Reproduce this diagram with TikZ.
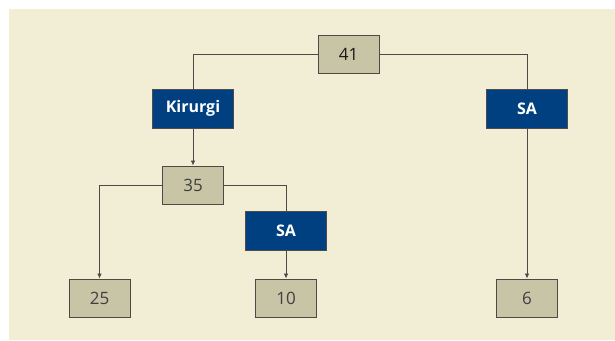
\documentclass[tikz,border=0pt]{standalone}
\usepackage{fontspec}
\setmainfont{Open Sans}
\usetikzlibrary{arrows.meta}
\definecolor{paper}{RGB}{242,238,214}
\definecolor{stone}{RGB}{200,196,166}
\definecolor{navy}{RGB}{0,64,128}
\definecolor{wire}{RGB}{75,75,70}
\tikzset{
	numbox/.style={draw=wire,fill=stone,line width=0.9pt,minimum width=61pt,minimum height=38pt,inner sep=0pt,text=black!75,font=\fontsize{17}{20}\selectfont},
	opbox/.style={draw=black!70,fill=navy,line width=0.9pt,minimum width=81pt,minimum height=39pt,inner sep=0pt,text=white,font=\fontsize{16}{20}\selectfont\bfseries},
	link/.style={draw=wire,line width=0.8pt},
	arrow/.style={link,-{Latex[length=5pt,width=4.5pt]}}
}
\begin{document}
\begin{tikzpicture}[x=1pt,y=-1pt]
		\useasboundingbox (0,0) rectangle (615,340);
		\fill[paper] (9,9) rectangle (615,340);
		% first level
		\node [numbox,text=black!90] (0) at (348.5,54) {41};
		\node [opbox] (1) at (193,108.5) {Kirurgi};
		\node [opbox] (2) at (527,108.5) {SA};
		% second level
		\node [numbox] (3) at (193,185) {35};
		\node [opbox] (4) at (286,231) {SA};
		% leaves
		\node [numbox] (5) at (99.5,298) {25};
		\node [numbox] (6) at (286,298) {10};
		\node [numbox] (7) at (527,298) {6};
		\draw [link] (0.west) -| (1.north);
		\draw [link] (0.east) -| (2.north);
		\draw [arrow] (1.south) -- (3.north);
		\draw [arrow] (3.west) -| (5.north);
		\draw [link] (3.east) -| (4.north);
		\draw [arrow] (4.south) -- (6.north);
		\draw [arrow] (2.south) -- (7.north);
	\end{tikzpicture}
\end{document}
